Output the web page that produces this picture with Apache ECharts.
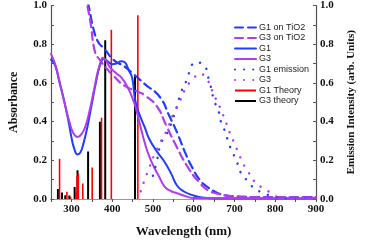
<!DOCTYPE html>
<html>
<head>
<meta charset="utf-8">
<script src="https://cdn.jsdelivr.net/npm/echarts@6/dist/echarts.min.js"></script>
<style>
  html, body { margin: 0; padding: 0; background: #fff; }
  #chart { width: 365px; height: 243px; }
</style>
</head>
<body>
<div id="chart"></div>
<script>
// absorbance / emission spectra, G1 vs G3

var g1TiO2 = [[330, 1.08], [342, 1.0], [354, 0.88], [366, 0.81], [381, 0.776], [404, 0.718], [430, 0.685],
  [449, 0.652], [480, 0.594], [517, 0.527], [540, 0.43], [560, 0.34], [578, 0.245], [597, 0.16],
  [616, 0.096], [635, 0.06], [652, 0.038], [675, 0.02], [699, 0.013], [750, 0.01], [850, 0.008], [900, 0.01]];
var g3TiO2 = [[332, 1.06], [339, 1.0], [347, 0.91], [358, 0.76], [370, 0.718], [389, 0.668], [400, 0.643],
  [430, 0.586], [466, 0.552], [480, 0.536], [510, 0.478], [533, 0.378], [556, 0.279], [586, 0.163],
  [616, 0.08], [635, 0.045], [654, 0.03], [691, 0.015], [750, 0.01], [850, 0.008], [900, 0.01]];
var g1Abs = [[250, 0.72], [255, 0.71], [262, 0.68], [270, 0.61], [282, 0.51], [293, 0.40], [300, 0.32],
  [307, 0.26], [315, 0.23], [322, 0.24], [330, 0.29], [340, 0.38], [350, 0.49], [360, 0.60], [370, 0.69],
  [380, 0.725], [390, 0.71], [400, 0.697], [410, 0.70], [423, 0.712], [432, 0.705], [440, 0.668],
  [449, 0.627], [455, 0.53], [460, 0.48], [470, 0.42], [480, 0.37], [491, 0.31], [510, 0.245],
  [529, 0.19], [545, 0.13], [559, 0.07], [575, 0.04], [597, 0.02], [620, 0.008], [660, 0.003], [900, 0.003]];
var g3Abs = [[250, 0.75], [258, 0.71], [265, 0.66], [275, 0.57], [285, 0.48], [295, 0.40], [305, 0.34],
  [315, 0.32], [325, 0.335], [335, 0.38], [345, 0.46], [355, 0.56], [365, 0.66], [372, 0.71], [377, 0.73],
  [385, 0.715], [395, 0.68], [410, 0.65], [423, 0.627], [438, 0.577], [450, 0.52], [457, 0.478],
  [470, 0.37], [480, 0.29], [491, 0.22], [505, 0.155], [514, 0.12], [529, 0.063], [545, 0.04],
  [559, 0.03], [580, 0.015], [600, 0.005], [900, 0.003]];
var g1Emission = [[500, 0.12], [510, 0.2], [517, 0.27], [525, 0.31], [538, 0.353], [548, 0.41], [555, 0.45],
  [570, 0.557], [582, 0.61], [591, 0.663], [603, 0.706], [622, 0.698], [639, 0.602], [650, 0.51],
  [662, 0.448], [667, 0.398], [677, 0.348], [685, 0.295], [694, 0.245], [704, 0.204], [715, 0.138],
  [732, 0.093], [749, 0.055], [772, 0.03], [795, 0.013], [820, 0.005], [900, 0.005]];
var g3Emission = [[470, 0.04], [487, 0.14], [506, 0.24], [520, 0.3], [535, 0.36], [550, 0.44], [565, 0.5],
  [580, 0.57], [600, 0.625], [616, 0.647], [631, 0.623], [642, 0.577], [650, 0.536], [661, 0.49],
  [670, 0.444], [680, 0.392], [688, 0.345], [699, 0.292], [709, 0.242], [720, 0.188], [733, 0.143],
  [748, 0.093], [767, 0.06], [789, 0.033], [810, 0.01], [900, 0.005]];

// calculated transitions (sticks)
var g1TheoryNm = [271, 289, 298, 311, 314, 317, 328, 351, 374, 398, 463];
var g1TheoryVal = [0.208, 0.038, 0.012, 0.033, 0.12, 0.133, 0.08, 0.163, 0.42, 0.875, 0.95];
var g3TheoryNm = [267, 277, 285, 295, 308, 315, 341, 370, 383, 456];
var g3TheoryVal = [0.052, 0.033, 0.02, 0.018, 0.062, 0.149, 0.245, 0.399, 0.82, 0.635];

var xTicks = [300, 400, 500, 600, 700, 800, 900];

function sticks(nm, vals) {
  var d = [];
  for (var i = 0; i < nm.length; i++) {
    d.push([nm[i], 0], [nm[i], vals[i]], [nm[i], null]);
  }
  return d;
}

var blue = '#1f3cff';
var purple = '#b03cf0';
var serif = '"Liberation Serif", "Times New Roman", serif';
var labelStyle = { color: '#111', fontFamily: serif, fontWeight: 'bold', fontSize: 11 };

function yAxisFor(pos, name) {
  return {
    type: 'value', position: pos, min: 0, max: 1, interval: 0.1,
    name: name, nameLocation: 'middle', nameRotate: 90,
    nameGap: pos == 'left' ? 31 : 30,
    nameTextStyle: { color: '#111', fontFamily: serif, fontWeight: 'bold', fontSize: pos == 'left' ? 12 : 11 },
    axisLine: { show: true, lineStyle: { color: '#555', width: 1.2 } },
    axisTick: { show: true, inside: true, length: 3, lineStyle: { color: '#555' } },
    axisLabel: Object.assign({
      margin: 4,
      formatter: function (v) {
        var r = Math.round(v * 10);
        return (r % 2 == 0) ? v.toFixed(1) : '';
      }
    }, labelStyle),
    splitLine: { show: false }
  };
}

var chart = echarts.init(document.getElementById('chart'));

function lineSeries(name, data, color, type, width, yIdx) {
  return {
    name: name, type: 'line', data: data, yAxisIndex: yIdx || 0,
    smooth: true, showSymbol: false, symbol: 'none', clip: true,
    lineStyle: { color: color, width: width, type: type, cap: 'round' },
    itemStyle: { color: color },
    z: 3
  };
}

var option = {
  animation: false,
  grid: { left: 40, right: 38, top: 5, bottom: 37 },
  legend: {
    orient: 'vertical', left: 229, top: 18,
    itemWidth: 21, itemHeight: 10, itemGap: 1.5,
    itemStyle: { opacity: 0 },
    textStyle: { fontFamily: '"Liberation Sans", Arial, sans-serif', fontSize: 9, color: '#222', padding: [0, 0, 0, -2] },
    data: ['G1 on TiO2', 'G3 on TiO2', 'G1', 'G3', 'G1 emission', 'G3 ', 'G1 Theory', 'G3 theory']
  },
  xAxis: [{
    type: 'value', min: 250, max: 900, interval: 50,
    name: 'Wavelength (nm)', nameLocation: 'middle', nameGap: 26,
    nameTextStyle: { color: '#111', fontFamily: serif, fontWeight: 'bold', fontSize: 13 },
    axisLine: { lineStyle: { color: '#555', width: 1.2 } },
    axisTick: { show: true, length: 3, lineStyle: { color: '#555' } },
    axisLabel: Object.assign({
      margin: 5,
      formatter: function (v) { return xTicks.indexOf(v) >= 0 ? String(v) : ''; }
    }, labelStyle),
    splitLine: { show: false }
  }, {
    type: 'value', position: 'top', min: 250, max: 900,
    axisLine: { show: true, lineStyle: { color: '#999' } },
    axisTick: { show: false }, axisLabel: { show: false }, splitLine: { show: false }
  }],
  yAxis: [yAxisFor('left', 'Absorbance'), yAxisFor('right', 'Emission Intensity (arb. Units)')],
  series: [
    {
      name: 'G3 theory', type: 'line', data: sticks(g3TheoryNm, g3TheoryVal),
      showSymbol: false, symbol: 'none', connectNulls: false,
      lineStyle: { color: '#000', width: 2 }, itemStyle: { color: '#000' }, z: 2
    },
    {
      name: 'G1 Theory', type: 'line', data: sticks(g1TheoryNm, g1TheoryVal),
      showSymbol: false, symbol: 'none', connectNulls: false,
      lineStyle: { color: '#ff0000', width: 1.6 }, itemStyle: { color: '#ff0000' }, z: 2
    },
    lineSeries('G1 on TiO2', g1TiO2, blue, [8, 5], 2.2),
    lineSeries('G3 on TiO2', g3TiO2, purple, [8, 5], 2.2),
    lineSeries('G1', g1Abs, blue, 'solid', 2),
    lineSeries('G3', g3Abs, purple, 'solid', 2),
    lineSeries('G1 emission', g1Emission, blue, [0.1, 9], 2.4, 1),
    lineSeries('G3 ', g3Emission, purple, [0.1, 9], 2.4, 1)
  ]
};

chart.setOption(option);
</script>
</body>
</html>
